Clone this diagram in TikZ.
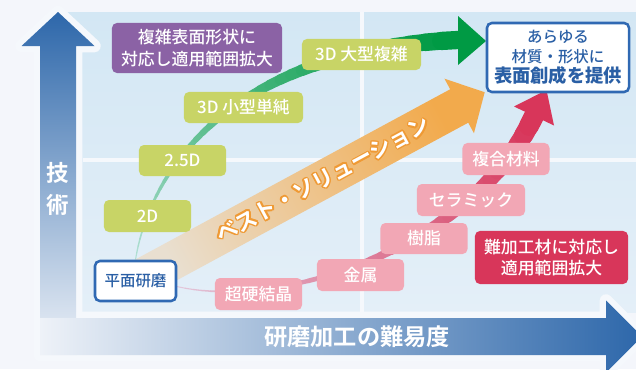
\documentclass[tikz,border=0pt]{standalone}
\usepackage{fontspec}
\setmainfont{Noto Sans CJK JP}[BoldFont={Noto Sans CJK JP Bold}]
\newfontfamily\jpmed{Noto Sans CJK JP Medium}
\usetikzlibrary{backgrounds}

\definecolor{bgc}{HTML}{F4F6FB}
\definecolor{panelT}{HTML}{D3E7F4}
\definecolor{panelB}{HTML}{E4EFF8}
\definecolor{gridc}{HTML}{F5F8FC}
\definecolor{axisD}{HTML}{2D67AA}
\definecolor{axisL}{HTML}{EEF2F8}
\definecolor{limeBox}{HTML}{C8D466}
\definecolor{purpBox}{HTML}{8B62A5}
\definecolor{pinkBox}{HTML}{F2A7B5}
\definecolor{redBox}{HTML}{D8365A}
\definecolor{blueLine}{HTML}{3069B3}
\definecolor{blueText}{HTML}{2A5FA5}
\definecolor{greenA}{HTML}{009A44}
\definecolor{tealL}{HTML}{B0DFD3}
\definecolor{orangeA}{HTML}{F2AA4C}
\definecolor{orangeL}{HTML}{E9DFD0}
\definecolor{orangeD}{HTML}{EF9A35}
\definecolor{pinkL}{HTML}{E2C6DA}

\begin{document}
\begin{tikzpicture}[x=0.025cm, y=-0.025cm,
    box/.style={rounded corners=3.5pt, inner sep=0pt, text=white, align=center,
      font=\jpmed\fontsize{12}{15}\selectfont},
    lime box/.style={box, fill=limeBox, minimum width=2.175cm, minimum height=0.775cm},
    pink box/.style={box, fill=pinkBox, minimum width=2.175cm, minimum height=0.8cm},
    white box/.style={box, fill=white, draw=blueLine, line width=1.8pt, text=blueText},
    axis label/.style={text=white, align=center, font=\bfseries\fontsize{16}{23}\selectfont},
    best text/.style={rotate=28.4, font=\bfseries\fontsize{15.5}{15.5}\selectfont}]
\useasboundingbox (0,0) rectangle (636,369);

% boxes
\node[box, fill=purpBox, minimum width=4.25cm, minimum height=1.25cm,
  font=\jpmed\fontsize{12}{15.6}\selectfont] (wider) at (197,48) {複雑表面形状に\\対応し適用範囲拡大};
\node[lime box, minimum width=2.975cm] (big3d) at (361.5,54.5) {3D 大型複雑};
\node[lime box, minimum width=2.975cm] (small3d) at (243.5,107.5) {3D 小型単純};
\node[lime box] (d25) at (182.5,160.5) {2.5D};
\node[lime box, minimum height=0.8cm] (d2) at (147.5,216) {2D};
\node[white box, minimum width=2.025cm, minimum height=1cm,
  font=\jpmed\fontsize{11}{13}\selectfont] (flat) at (135.5,281) {平面研磨};
\node[pink box] (carb) at (258.5,294) {超硬結晶};
\node[pink box] (metal) at (360.5,275) {金属};
\node[pink box, minimum height=0.775cm] (resin) at (424,238.5) {樹脂};
\node[pink box, minimum width=2.7cm] (cera) at (471,200) {セラミック};
\node[pink box] (comp) at (506,159) {複合材料};
\node[box, fill=redBox, minimum width=3.825cm, minimum height=1.325cm] (hard) at (551.5,257.5) {難加工材に対応し\\適用範囲拡大};
\node[white box, minimum width=3.55cm, minimum height=1.725cm,
  font=\jpmed\fontsize{11}{14.2}\selectfont] (goal) at (558,57.5)
  {あらゆる\\材質・形状に\\{\bfseries\fontsize{13}{14.2}\selectfont 表面創成を提供}};

% axis labels
\node[axis label] (tech) at (58,189) {技\\術};
\node[axis label, font=\bfseries\fontsize{16.5}{20}\selectfont] (level) at (357,337) {研磨加工の難易度};

\begin{pgfonlayer}{background}
  \fill[bgc] (0,0) rectangle (636,369);
  \shade[top color=panelT, bottom color=panelB] (66,12) rectangle (636,312);
  \draw[gridc, line width=3.5pt] (362,12) -- (362,312);
  \draw[gridc, line width=3.5pt] (83,160) -- (636,160);

  % axes
  \draw[gridc, line width=9pt, line join=round] (40,355) -- (40,46) -- (21.5,46) -- (58,12) -- (94.5,46) -- (76,46) -- (76,355) -- cycle;
  \draw[gridc, line width=9pt, line join=round] (40,318) -- (606,318) -- (606,300.5) -- (642,336.5) -- (606,372.5) -- (606,355) -- (40,355) -- cycle;
  \shade[top color=axisD, bottom color=axisL] (40,355) -- (40,46) -- (21.5,46) -- (58,12) -- (94.5,46) -- (76,46) -- (76,355) -- cycle;
  \shade[left color=axisL, right color=axisD] (40,318) -- (606,318) -- (606,300.5) -- (642,336.5) -- (606,372.5) -- (606,355) -- (40,355) -- cycle;

  % green curve
  \coordinate (gend) at (458,40);
  \foreach \i in {0,...,40}
    \path (flat.north) .. controls (150,170) and (230,50) .. (gend) coordinate[pos=\i/40] (g\i);
  \foreach \i [evaluate=\i as \j using int(\i+1), evaluate=\i as \p using int(100*\i/39)] in {0,...,39}
    \draw[greenA!\p!tealL, line width={(0.8+4*(\i/39)+8.2*(\i/39)*(\i/39))*1pt}, line cap=round] (g\i) -- (g\j);
  \fill[greenA] (458,16) -- (486,41) -- (458,65) -- cycle;

  % orange arrow
  \begin{scope}[shift={(flat.center)}, rotate=28.4]
    \shade[left color=orangeL, right color=orangeA, shading angle=118.4]
      (0,-19) -- (368,-19) -- (368,-31) -- (397,0) -- (368,31) -- (368,19) -- (0,19) -- cycle;
    \coordinate (best) at (213,0);
  \end{scope}

  % red curve
  \coordinate (rend) at (534,116);
  \foreach \i in {0,...,40}
    \path ([yshift=-4pt]flat.east) .. controls (280,310) and (470,250) .. (rend) coordinate[pos=\i/40] (r\i);
  \foreach \i [evaluate=\i as \j using int(\i+1), evaluate=\i as \p using int(100*\i/39)] in {0,...,39}
    \draw[redBox!\p!pinkL, line width={(0.7+4*(\i/39)+9.5*(\i/39)*(\i/39))*1pt}, line cap=round] (r\i) -- (r\j);
  \fill[redBox] (514,106.5) -- (546.5,90) -- (554,125.5) -- cycle;
\end{pgfonlayer}

% arrow text
\foreach \a in {0,30,...,330}
  \node[best text, text=orangeD] at ([shift={(\a:1.4)}]best) {ベスト・ソリューション};
\node[best text, text=white] (bestlbl) at (best) {ベスト・ソリューション};
\end{tikzpicture}
\end{document}
